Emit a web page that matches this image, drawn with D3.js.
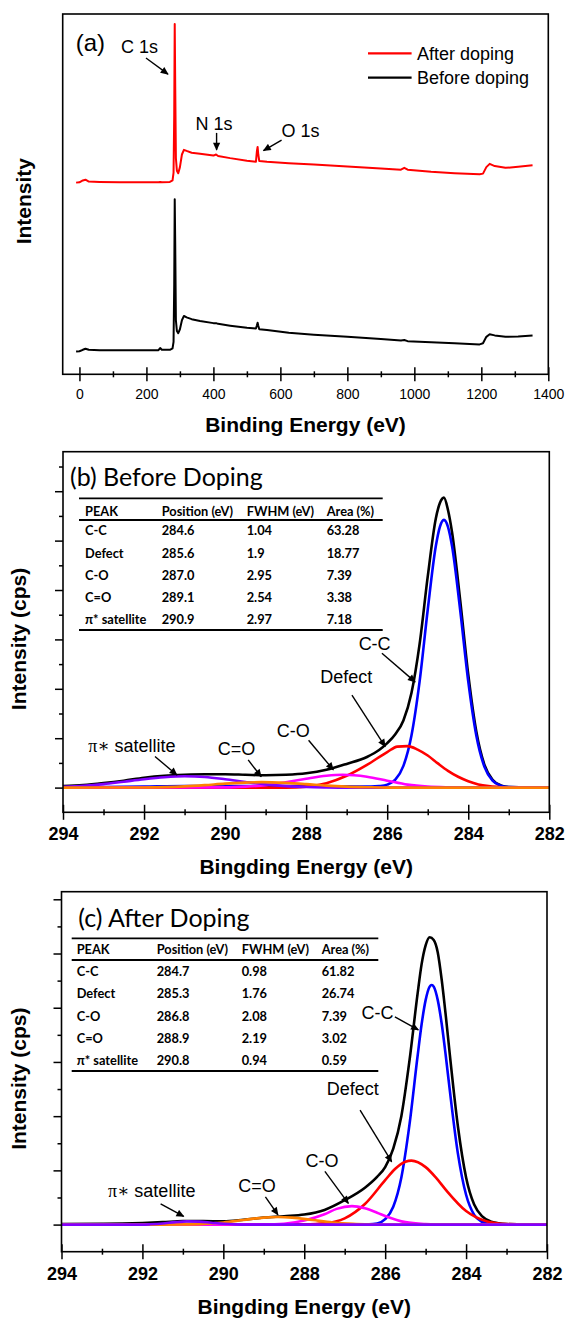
<!DOCTYPE html>
<html><head><meta charset="utf-8">
<script src="https://cdn.jsdelivr.net/npm/d3@7"></script>
<style>body{margin:0;background:#fff} svg{display:block}</style>
</head><body><svg id="c" width="566" height="1322"></svg>
<script>
// ---------------- DATA ----------------
// (a) survey spectra (arbitrary intensity units)
const surveyEnergy = [-10,0,10,18,28,60,120,200,236,241,246,270,278,281,283,284.5,286,288,291,295,300,306,312,320,335,360,400,408,414,450,500,527,530,532,534,537,560,625,700,800,900,960,970,980,1050,1120,1195,1205,1215,1225,1240,1272,1310,1353];
const surveyAfter  = [53.2,53.3,53.8,54.0,53.5,53.4,53.3,53.3,53.3,53.4,53.3,53.4,53.8,56,72,97.2,80,60,56.5,55.8,57.5,61,62.3,62.0,61.5,61.2,60.7,61.0,60.6,60.0,59.3,59.0,62,63.1,61,59.2,59.0,58.6,58.2,57.7,57.1,56.8,57.3,56.8,56.2,55.8,55.5,55.7,57.5,58.4,57.8,57.3,57.6,58.0];
const surveyBefore = [6.3,6.4,6.8,7.1,6.8,6.7,6.7,6.7,6.7,7.3,6.8,6.8,7.2,9,25,48.6,36,15,12,11.4,12.5,15,16.2,15.8,15.3,14.8,14.2,14.2,14.0,13.5,12.9,12.7,13.6,14.3,13.5,12.5,12.3,11.5,11.0,10.4,9.8,9.4,9.5,9.2,8.9,8.6,8.3,8.6,10.4,11.1,10.8,10.4,10.5,10.8];
const surveyTicks = [0,200,400,600,800,1000,1200,1400];
const surveyMinor = [100,300,500,700,900,1100,1300];
const legendNames = ["After doping","Before doping"];

// (b) Before doping C 1s fit
const bEnvE = [294,293.5,293,292.5,292,291.5,291,290.5,290,289.5,289,288.5,288,287.5,287,286.5,286.2,286,285.8,285.6,285.4,285.2,285.0,284.8,284.7,284.6,284.5,284.4,284.2,284.0,283.8,283.6,283.4,283.2,283.0,282.5,282];
const bEnvV = [0.03,0.05,0.09,0.14,0.20,0.24,0.26,0.27,0.27,0.26,0.25,0.26,0.29,0.36,0.48,0.62,0.76,0.90,1.08,1.36,1.92,2.91,4.27,5.45,5.76,5.87,5.62,5.17,3.80,2.29,1.13,0.46,0.16,0.045,0.01,0,0];
const bCCE = [294,292,291,288,286.6,286.4,286.2,286.0,285.8,285.6,285.4,285.2,285.0,284.8,284.7,284.6,284.5,284.4,284.2,284.0,283.8,283.6,283.4,283.2,283.0,282.5,282];
const bCCV = [0,0.02,0.03,0.03,0.02,0.02,0.03,0.06,0.16,0.44,1.06,2.15,3.60,4.89,5.28,5.42,5.28,4.89,3.60,2.15,1.05,0.42,0.14,0.04,0.01,0,0];
const bDefE = [294,288.5,288,287.5,287,286.5,286,285.75,285.5,285.25,285,284.75,284.5,284.25,284,283.75,283.5,283.25,283,282];
const bDefV = [0,0,0.02,0.09,0.24,0.46,0.72,0.83,0.84,0.77,0.65,0.49,0.34,0.22,0.13,0.065,0.03,0.012,0,0];
const bCOE = [294,290,289.5,289,288.5,288,287.5,287.1,286.5,286,285.5,285,284.5,284,282];
const bCOV = [0,0.005,0.02,0.05,0.11,0.18,0.24,0.26,0.22,0.14,0.06,0.02,0.005,0,0];
const bCdOE = [294,292,291.5,291,290.5,290,289.5,289.1,288.5,288,287.5,287,286.5,286,282];
const bCdOV = [0,0.003,0.01,0.025,0.05,0.08,0.10,0.11,0.095,0.07,0.04,0.02,0.008,0,0];
const bPiE = [294,293.5,293,292.5,292,291.5,291,290.5,290,289.5,289,288.5,288,287.5,287,282];
const bPiV = [0.015,0.035,0.07,0.12,0.17,0.21,0.23,0.215,0.17,0.115,0.065,0.03,0.012,0.004,0,0];

// (c) After doping C 1s fit
const cEnvE = [294,293,292.5,292,291.5,291,290.5,290,289.5,289,288.5,288,287.5,287,286.5,286.2,286,285.8,285.6,285.4,285.2,285.1,285.0,284.9,284.8,284.7,284.6,284.5,284.4,284.2,284.0,283.8,283.6,283.4,283.2,283.0,282.5,282];
const cEnvV = [0.01,0.015,0.02,0.03,0.045,0.065,0.065,0.06,0.09,0.13,0.155,0.185,0.27,0.45,0.68,0.88,1.06,1.40,2.0,3.02,4.25,4.8,5.15,5.3,5.25,5.02,4.5,3.84,3.12,1.80,0.87,0.37,0.15,0.06,0.025,0.01,0,0];
const cCCE = [294,286.4,286.2,286.0,285.8,285.6,285.4,285.2,285.1,285.0,284.9,284.85,284.8,284.7,284.6,284.5,284.4,284.2,284.0,283.8,283.6,283.4,283.2,282];
const cCCV = [0,0.005,0.02,0.10,0.33,0.87,1.84,3.10,3.69,4.14,4.39,4.42,4.39,4.14,3.69,3.10,2.46,1.30,0.55,0.18,0.05,0.01,0,0];
const cDefE = [294,288.5,288,287.5,287,286.5,286,285.75,285.5,285.35,285.0,284.75,284.5,284.0,283.5,283.0,282.5,282];
const cDefV = [0,0,0.003,0.022,0.115,0.38,0.82,1.03,1.16,1.18,1.06,0.87,0.64,0.25,0.063,0.01,0,0];
const cCOE = [294,289.5,289,288.5,288,287.5,287.2,286.82,286.5,286.2,286,285.5,285,284.5,282];
const cCOV = [0,0,0.002,0.016,0.075,0.19,0.29,0.34,0.30,0.22,0.16,0.045,0.01,0,0];
const cCdOE = [294,291.5,291,290.5,290,289.5,289,288.65,288.3,287.8,287.3,286.8,286.3,286,282];
const cCdOV = [0,0,0.003,0.013,0.04,0.085,0.129,0.14,0.129,0.085,0.04,0.013,0.003,0,0];
const cPiE = [294,292,291.8,291.5,291.2,290.9,290.6,290.3,290.0,289.7,289.4,282];
const cPiV = [0,0,0.005,0.02,0.045,0.06,0.055,0.035,0.015,0.004,0,0];

const coreTicks = [294,292,290,288,286,284,282];
const coreMinor = [293,291,289,287,285,283];

// tables
const tableHeader = ["PEAK","Position (eV)","FWHM (eV)","Area (%)"];
const peakNames = ["C-C","Defect","C-O","C=O","π* satellite"];
const bPosition = ["284.6","285.6","287.0","289.1","290.9"];
const bFWHM = ["1.04","1.9","2.95","2.54","2.97"];
const bArea = ["63.28","18.77","7.39","3.38","7.18"];
const cPosition = ["284.7","285.3","286.8","288.9","290.8"];
const cFWHM = ["0.98","1.76","2.08","2.19","0.94"];
const cArea = ["61.82","26.74","7.39","3.02","0.59"];

// annotations (data coordinates)
const aLabels = [
  {t:"C 1s", e:124, v:89.2, anchor:"start"},
  {t:"N 1s", e:402, v:67.8, anchor:"middle"},
  {t:"O 1s", e:660, v:66.0, anchor:"middle"}];
const aArrows = [[198.7,87.8,264.4,83.3],[409.5,67.0,409.5,62.3],[603.6,65.0,549.6,62.1]];
const bLabels = [
  {t:"C-C", e:286.31, v:2.79},{t:"Defect", e:287.01, v:2.11},{t:"C-O", e:288.32, v:1.03},
  {t:"C=O", e:289.72, v:0.66},{t:"π* satellite", e:292.30, v:0.72, pi:true}];
const bArrows = [[286.13,2.72,285.31,2.14],[286.87,1.87,286.05,0.83],[287.94,0.96,287.33,0.36],[289.43,0.56,289.11,0.22],[291.73,0.63,291.19,0.255]];
const cLabels = [
  {t:"C-C", e:286.19, v:3.80},{t:"Defect", e:286.80, v:2.39},{t:"C-O", e:287.56, v:1.07},
  {t:"C=O", e:289.17, v:0.61},{t:"π* satellite", e:291.77, v:0.51, pi:true}];
const cArrows = [[285.76,3.83,285.18,3.59],[286.62,2.11,285.84,1.16],[287.49,0.98,286.91,0.39],[288.96,0.51,288.65,0.18],[291.55,0.38,290.98,0.15]];

// ---------------- DRAW ----------------
const SANS = "'Liberation Sans', Arial, sans-serif";
const CAL = "Lato, 'Open Sans', sans-serif";
const svg = d3.select("#c");
svg.append("rect").attr("width",566).attr("height",1322).attr("fill","#fff");
const defs = svg.append("defs");
defs.append("marker").attr("id","ah").attr("viewBox","0 0 10 10").attr("refX",9).attr("refY",5)
  .attr("markerWidth",9).attr("markerHeight",8).attr("markerUnits","userSpaceOnUse").attr("orient","auto")
  .append("path").attr("d","M0,0.5 L10,5 L0,9.5 z").attr("fill","#000");

function arrows(g, list, x, y){
  g.selectAll(null).data(list).join("line")
    .attr("x1",d=>x(d[0])).attr("y1",d=>y(d[1])).attr("x2",d=>x(d[2])).attr("y2",d=>y(d[3]))
    .attr("stroke","#000").attr("stroke-width",1.4).attr("marker-end","url(#ah)");
}

// ---- Panel (a)
(function(){
  const P = {L:62.7, R:548.3, T:14, B:374.3};
  const x = d3.scaleLinear().domain([-50,1400]).range([P.L,P.R]);
  const y = d3.scaleLinear().domain([0,100]).range([P.B,P.T]);
  const g = svg.append("g");
  const line = d3.line().x(d=>x(d[0])).y(d=>y(d[1])).curve(d3.curveLinear);
  g.append("path").datum(surveyEnergy.map((e,i)=>[e,surveyBefore[i]])).attr("d",line)
    .attr("fill","none").attr("stroke","#000").attr("stroke-width",2).attr("stroke-linejoin","round");
  g.append("path").datum(surveyEnergy.map((e,i)=>[e,surveyAfter[i]])).attr("d",line)
    .attr("fill","none").attr("stroke","#ff0000").attr("stroke-width",2).attr("stroke-linejoin","round");
  g.append("rect").attr("x",P.L).attr("y",P.T).attr("width",P.R-P.L).attr("height",P.B-P.T)
    .attr("fill","none").attr("stroke","#000").attr("stroke-width",1.6);
  const ax = g.append("g").attr("transform",`translate(0,${P.B})`)
    .call(d3.axisBottom(x).tickValues(surveyTicks).tickFormat(d3.format("d")).tickSize(7));
  ax.select(".domain").remove();
  ax.selectAll(".tick line").attr("y1",-7).attr("y2",7).attr("stroke-width",1.5);
  ax.selectAll(".tick text").attr("y",25).attr("dy",0).attr("font-family",SANS).attr("font-size",14).attr("fill","#000");
  const axm = g.append("g").attr("transform",`translate(0,${P.B})`)
    .call(d3.axisBottom(x).tickValues(surveyMinor).tickSize(3).tickFormat(""));
  axm.select(".domain").remove();
  axm.selectAll(".tick line").attr("y1",-3).attr("y2",3).attr("stroke-width",1.5);
  g.append("text").attr("x",(P.L+P.R)/2).attr("y",P.B+58).attr("text-anchor","middle")
    .attr("font-family",SANS).attr("font-weight","bold").attr("font-size",21).text("Binding Energy (eV)");
  g.append("text").attr("transform",`translate(31,${(P.T+P.B)/2+7}) rotate(-90)`).attr("text-anchor","middle")
    .attr("font-family",SANS).attr("font-weight","bold").attr("font-size",21).text("Intensity");
  g.append("text").attr("x",x(-10.9)).attr("y",y(89.7)).attr("font-family",SANS).attr("font-size",24).text("(a)");
  g.selectAll(null).data(aLabels).join("text").attr("x",d=>x(d.e)).attr("y",d=>y(d.v))
    .attr("text-anchor",d=>d.anchor).attr("font-family",SANS).attr("font-size",18).text(d=>d.t);
  arrows(g, aArrows, x, y);
  // legend
  const lg = g.append("g");
  const cols = ["#ff0000","#000"];
  legendNames.forEach((n,i)=>{
    const yy = 53.3 + i*24.4;
    lg.append("line").attr("x1",368).attr("x2",411.6).attr("y1",yy).attr("y2",yy).attr("stroke",cols[i]).attr("stroke-width",2.2);
    lg.append("text").attr("x",417).attr("y",yy+6.3).attr("font-family",SANS).attr("font-size",18).text(n);
  });
})();

// ---- Core-level panels
function corePanel(cfg){
  const P = cfg.P;
  const x = d3.scaleLinear().domain([294,282]).range([P.L,P.R]);
  const y = d3.scaleLinear().domain(cfg.yDomain).range([P.B,P.T]);
  const g = svg.append("g");
  const clipId = "clip"+cfg.id;
  defs.append("clipPath").attr("id",clipId).append("rect").attr("x",P.L).attr("y",P.T).attr("width",P.R-P.L).attr("height",P.B-P.T);
  const line = d3.line().x(d=>x(d[0])).y(d=>y(d[1])).curve(d3.curveMonotoneX);
  const cg = g.append("g").attr("clip-path",`url(#${clipId})`);
  cfg.series.forEach(s=>{
    cg.append("path").datum(s.e.map((e,i)=>[e,s.v[i]])).attr("d",line)
      .attr("fill","none").attr("stroke",s.c).attr("stroke-width",2.6).attr("stroke-linejoin","round");
  });
  g.append("rect").attr("x",P.L).attr("y",P.T).attr("width",P.R-P.L).attr("height",P.B-P.T)
    .attr("fill","none").attr("stroke","#000").attr("stroke-width",1.6);
  // x axis
  const ax = g.append("g").attr("transform",`translate(0,${P.B})`).call(d3.axisBottom(x).tickValues(coreTicks).tickSize(7));
  ax.select(".domain").remove();
  ax.selectAll(".tick line").attr("y1",-7.5).attr("y2",7.5).attr("stroke-width",1.5);
  ax.selectAll(".tick text").attr("y",28).attr("dy",0).attr("font-family",SANS).attr("font-weight","bold").attr("font-size",18).attr("fill","#000");
  const axm = g.append("g").attr("transform",`translate(0,${P.B})`).call(d3.axisBottom(x).tickValues(coreMinor).tickSize(3).tickFormat(""));
  axm.select(".domain").remove();
  axm.selectAll(".tick line").attr("y1",-3).attr("y2",3).attr("stroke-width",1.5);
  // y axis ticks (no labels)
  const ay = g.append("g").attr("transform",`translate(${P.L},0)`).call(d3.axisLeft(y).tickValues(cfg.yMajor).tickSize(8).tickFormat(""));
  ay.select(".domain").remove(); ay.selectAll(".tick line").attr("stroke-width",1.5);
  const aym = g.append("g").attr("transform",`translate(${P.L},0)`).call(d3.axisLeft(y).tickValues(cfg.yMinor).tickSize(4).tickFormat(""));
  aym.select(".domain").remove(); aym.selectAll(".tick line").attr("stroke-width",1.5);
  // titles
  g.append("text").attr("x",(P.L+P.R)/2).attr("y",P.B+62).attr("text-anchor","middle")
    .attr("font-family",SANS).attr("font-weight","bold").attr("font-size",21).text("Bingding Energy (eV)");
  g.append("text").attr("transform",`translate(26,${(P.T+P.B)/2+7}) rotate(-90)`).attr("text-anchor","middle")
    .attr("font-family",SANS).attr("font-weight","bold").attr("font-size",21).text("Intensity (cps)");
  // labels & arrows
  cfg.labels.forEach(d=>{
    const t = g.append("text").attr("x",x(d.e)).attr("y",y(d.v)).attr("text-anchor","middle")
      .attr("font-family",SANS).attr("font-size",18);
    if(d.pi){
      t.append("tspan").attr("font-family","'Liberation Serif','DejaVu Serif',serif").text("π∗");
      t.append("tspan").text(" satellite");
    } else t.text(d.t);
  });
  arrows(g, cfg.arrows, x, y);
  // table
  const T = cfg.table;
  const tg = g.append("g").attr("transform",`translate(${P.L},${P.T})`);
  tg.append("text").attr("x",T.titleX).attr("y",T.titleY).attr("font-family",CAL).attr("font-size",25)
    .text(cfg.title);
  [T.r1,T.r2,T.r3].forEach(ry=>tg.append("line").attr("x1",T.x1).attr("x2",T.x2).attr("y1",ry).attr("y2",ry).attr("stroke","#000").attr("stroke-width",1.8));
  const colX = T.cols;
  tableHeader.forEach((h,i)=>tg.append("text").attr("x",colX[i]).attr("y",T.hY).attr("font-family",CAL).attr("font-weight","bold").attr("font-size",12.8).text(h));
  const rows = peakNames.map((n,i)=>[n,cfg.pos[i],cfg.fwhm[i],cfg.area[i]]);
  rows.forEach((r,ri)=>r.forEach((c,ci)=>tg.append("text").attr("x",colX[ci]).attr("y",T.rY+ri*T.rS)
    .attr("font-family",CAL).attr("font-weight","bold").attr("font-size",12.8).text(c)));
}

corePanel({
  id:"b", P:{L:63, R:549.3, T:451.7, B:812.3}, yDomain:[-0.5,6.8],
  yMajor:[0,1,2,3,4,5,6], yMinor:[0.5,1.5,2.5,3.5,4.5,5.5,6.5],
  series:[
    {e:bEnvE,v:bEnvV,c:"#000000"},{e:bCCE,v:bCCV,c:"#0000ff"},{e:bDefE,v:bDefV,c:"#ff0000"},
    {e:bCOE,v:bCOV,c:"#ff00ff"},{e:bPiE,v:bPiV,c:"#8000ff"},{e:bCdOE,v:bCdOV,c:"#ff8000"}],
  labels:bLabels, arrows:bArrows, title:"(b) Before Doping",
  pos:bPosition, fwhm:bFWHM, area:bArea,
  table:{titleX:7, titleY:34.8, x1:16, x2:319.7, r1:46.6, r2:68.3, r3:178.3, hY:64.5, rY:83.8, rS:22.1, cols:[22,98.7,183.7,263.7]}
});
corePanel({
  id:"c", P:{L:61.5, R:547, T:891.7, B:1251.7}, yDomain:[-0.5,6.14],
  yMajor:[0,1,2,3,4,5,6], yMinor:[0.5,1.5,2.5,3.5,4.5,5.5],
  series:[
    {e:cEnvE,v:cEnvV,c:"#000000"},{e:cCCE,v:cCCV,c:"#0000ff"},{e:cDefE,v:cDefV,c:"#ff0000"},
    {e:cCOE,v:cCOV,c:"#ff00ff"},{e:cCdOE,v:cCdOV,c:"#ff8000"},{e:cPiE,v:cPiV,c:"#8000ff"}],
  labels:cLabels, arrows:cArrows, title:"(c) After Doping",
  pos:cPosition, fwhm:cFWHM, area:cArea,
  table:{titleX:16.8, titleY:35.5, x1:10.2, x2:316.8, r1:46.6, r2:68.3, r3:179.3, hY:62.8, rY:84.5, rS:22.25, cols:[15.2,95.2,180.2,260.2]}
});
</script></body></html>
